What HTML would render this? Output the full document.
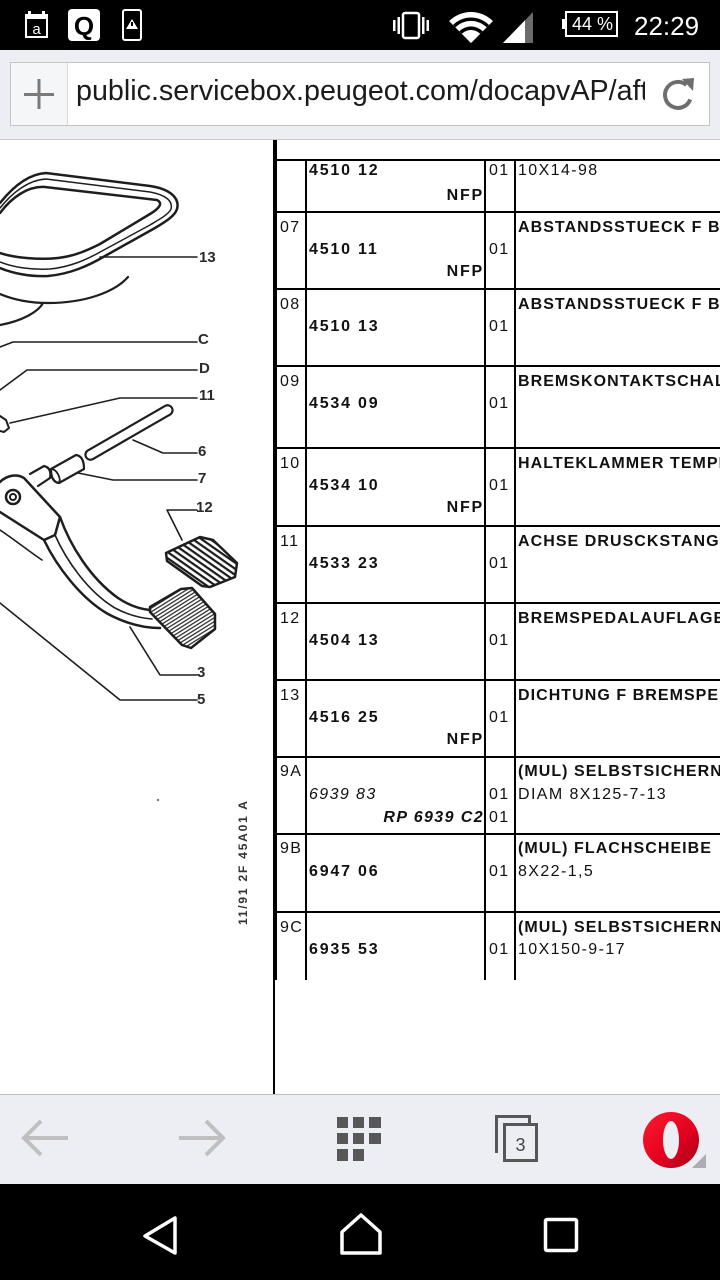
<!DOCTYPE html>
<html><head><meta charset="utf-8">
<style>
*{margin:0;padding:0}
html,body{width:720px;height:1280px;overflow:hidden;background:#fff}
svg{display:block}
.n{font-weight:bold;letter-spacing:1.8px;font-size:16px;fill:#111}
.ni{font-weight:bold;font-style:italic;letter-spacing:1.4px;font-size:16px;fill:#111}
.i{font-style:italic;letter-spacing:1.4px;font-size:16px;fill:#111}
.d{font-weight:bold;letter-spacing:1.05px;font-size:16px;fill:#111}
.r{letter-spacing:1.4px;font-size:16px;fill:#111}
.lb{font-weight:bold;font-size:15px;fill:#2a2a2a}
</style></head><body>
<svg width="720" height="1280" viewBox="0 0 720 1280" font-family="'Liberation Sans', Arial, sans-serif">
<defs>
<clipPath id="urlclip"><rect x="70" y="63" width="575" height="62"/></clipPath>
<pattern id="h3" width="3.2" height="3.2" patternUnits="userSpaceOnUse" patternTransform="rotate(-32)"><rect width="3.2" height="1.3" fill="#333"/></pattern>
<pattern id="h12" width="5" height="5" patternUnits="userSpaceOnUse" patternTransform="rotate(35)"><rect width="5" height="2.2" fill="#1a1a1a"/></pattern>
<linearGradient id="og" x1="0" y1="0" x2="1" y2="1"><stop offset="0" stop-color="#ff1b2d"/><stop offset="0.6" stop-color="#e0001f"/><stop offset="1" stop-color="#a00016"/></linearGradient>
</defs>

<!-- status bar -->
<rect width="720" height="50" fill="#000"/>
<rect x="26" y="15" width="21" height="22" fill="none" stroke="#fff" stroke-width="2"/>
<rect x="26" y="14" width="21" height="5" fill="#fff"/>
<rect x="28" y="11" width="3" height="4" fill="#fff"/><rect x="42" y="11" width="3" height="4" fill="#fff"/>
<text x="36.5" y="34" font-size="15" fill="#fff" text-anchor="middle">a</text>
<rect x="68" y="9" width="32" height="32" rx="4" fill="#fff"/>
<text x="84" y="35" font-size="26" font-weight="bold" text-anchor="middle" fill="#000">Q</text>
<rect x="123" y="10" width="18" height="30" rx="2" fill="none" stroke="#fff" stroke-width="2"/>
<polygon points="132,19 138,29 126,29" fill="#fff"/><rect x="131" y="22" width="2" height="4" fill="#000"/>
<rect x="403" y="13" width="16" height="25" rx="2" fill="none" stroke="#fff" stroke-width="2.5"/>
<rect x="393" y="20" width="2.5" height="11" fill="#fff"/><rect x="397.5" y="17" width="2.5" height="17" fill="#fff"/>
<rect x="422" y="17" width="2.5" height="17" fill="#fff"/><rect x="426.5" y="20" width="2.5" height="11" fill="#fff"/>
<path d="M471,43 L449.1,21.1 A31,31 0 0 1 492.9,21.1 Z" fill="#fff"/>
<path d="M471,43 L453,25 A25.5,25.5 0 0 1 489,25 Z" fill="#000"/>
<path d="M471,43 L455.4,27.4 A22,22 0 0 1 486.6,27.4 Z" fill="#fff"/>
<path d="M471,43 L459.3,31.3 A16.5,16.5 0 0 1 482.7,31.3 Z" fill="#000"/>
<path d="M471,43 L461.8,33.8 A13,13 0 0 1 480.2,33.8 Z" fill="#fff"/>
<polygon points="503,43 533,12 533,43" fill="#6b6b6b"/>
<polygon points="503,43 525,20.3 525,43" fill="#fff"/>
<rect x="566" y="12" width="51" height="24" fill="none" stroke="#fff" stroke-width="2"/>
<rect x="562" y="19" width="4" height="10" fill="#fff"/>
<text x="572" y="30" font-size="18" fill="#fff">44 %</text>
<text x="634" y="35" font-size="26" fill="#fff">22:29</text>

<!-- url bar -->
<rect y="50" width="720" height="90" fill="#edeef3"/>
<rect x="0" y="139" width="720" height="1" fill="#c9cace"/>
<rect x="10.5" y="62.5" width="699" height="63" fill="#fff" stroke="#c3c4c8"/>
<rect x="11" y="63" width="56" height="62" fill="#f5f6f8"/>
<rect x="67" y="63" width="1" height="62" fill="#d9dadd"/>
<rect x="24" y="93" width="30" height="3" fill="#7a7a7a"/><rect x="37.5" y="79" width="3" height="30" fill="#7a7a7a"/>
<text x="76" y="100" font-size="28.7" fill="#1b1b1b" clip-path="url(#urlclip)">public.servicebox.peugeot.com/docapvAP/aft</text>
<path d="M686.4,85 A13,13 0 1 0 690.2,99.4" fill="none" stroke="#6e6e6e" stroke-width="4"/>
<polygon points="682,79 694,78 693,91" fill="#6e6e6e"/>

<!-- drawing -->
<g fill="none" stroke="#1e1e1e" stroke-linejoin="round" stroke-linecap="round">
<path stroke-width="2.5" d="M0,203 C12,188 28,174 46,173 L150,186 C170,189 180,198 177,209 C175,216 165,222 155,228 L105,256 C88,266 70,274 48,276 C30,277 12,273 0,268"/>
<path stroke-width="1.5" d="M0,208 C12,193 28,180 46,179 L150,192 C166,195 173,201 171,209 C169,214 160,219 150,225 L102,251 C86,260 70,267 50,269 C30,270 12,267 0,262"/>
<path stroke-width="2.5" d="M0,253 C15,258 40,260 58,258 C75,256 88,250 100,244 L150,214 C160,208 163,203 157,200 L45,187 C28,186 12,197 0,213"/>
<path stroke-width="2.2" d="M128,277 C115,292 85,303 48,303 C28,303 12,299 0,294"/>
<path stroke-width="2.2" d="M43,303 C38,312 22,321 0,325"/>
<g stroke-width="1.6">
<path d="M100,257 L197,257"/>
<path d="M0,347 L13,342 L197,342"/>
<path d="M0,390 L27,370 L197,370"/>
<path d="M10,423 L120,398 L197,398"/>
<path d="M133,440 L163,453 L197,453"/>
<path d="M78,473 L113,480 L197,480"/>
<path d="M182,540 L167,510 L197,510"/>
<path d="M130,627 L160,675 L197,675"/>
<path d="M0,603 L120,700 L197,700"/>
</g>
<path stroke-width="2" d="M0,416 L6,420 L9,428 L4,432 L0,431"/>
<path stroke-width="2.2" fill="#fff" d="M87.5,450.7 L165.5,405.7 A5,5 0 0,1 170.5,414.3 L92.5,459.3 A5,5 0 0,1 87.5,450.7 Z"/>
<path stroke-width="2.2" fill="#fff" d="M51,469 L76,455 Q84,456 84,469 L59,483 Q51,482 51,469 Z"/>
<ellipse cx="55" cy="476" rx="3.5" ry="7.5" transform="rotate(-29 55 476)" stroke-width="1.8"/>
<path stroke-width="2.2" fill="#fff" d="M30,474 L44,466 Q52,468 50,478 L38,486"/>
<path stroke-width="2.5" fill="#fff" d="M0,482 C6,476 16,473 24,478 L60,517 L55,535 L44,540 L0,512"/>
<circle cx="13" cy="497" r="7" stroke-width="2.5"/>
<circle cx="13" cy="497" r="3" stroke-width="2"/>
<path stroke-width="2.5" d="M60,517 C70,545 90,578 118,598 C130,606 140,609 150,610"/>
<path stroke-width="1.6" d="M55,535 C66,560 88,592 115,608 C128,615 140,618 152,619"/>
<path stroke-width="2.5" d="M44,540 C56,565 80,598 108,614 C125,623 143,628 160,628"/>
<path stroke-width="1.6" d="M0,530 C15,540 30,552 42,560"/>
<polygon stroke-width="2.5" fill="url(#h3)" points="150,607 181,589 192,588 215,614 215,629 191,648 182,645 150,612"/>
<polygon stroke-width="2.5" fill="url(#h12)" points="166,553 200,537 213,540 237,563 235,577 210,587 202,586 167,561"/>
</g>
<text class="lb" x="199" y="262">13</text>
<text class="lb" x="198" y="344">C</text>
<text class="lb" x="199" y="373">D</text>
<text class="lb" x="199" y="400">11</text>
<text class="lb" x="198" y="456">6</text>
<text class="lb" x="198" y="483">7</text>
<text class="lb" x="196" y="512">12</text>
<text class="lb" x="197" y="677">3</text>
<text class="lb" x="197" y="704">5</text>
<text transform="translate(247,925) rotate(-90)" font-size="12" font-weight="bold" letter-spacing="1.8" fill="#333">11/91 2F 45A01 A</text>
<circle cx="158" cy="800" r="1.2" fill="#777"/>

<!-- frame divider & table lines -->
<rect x="273" y="140" width="2" height="954" fill="#000"/>
<rect x="273" y="140" width="4" height="840" fill="#000"/>
<g fill="#000">
<rect x="305" y="159" width="2" height="821"/>
<rect x="484" y="159" width="2" height="821"/>
<rect x="514" y="159" width="2" height="821"/>
<rect x="274" y="159" width="446" height="2"/>
<rect x="274" y="211" width="446" height="2"/>
<rect x="274" y="288" width="446" height="2"/>
<rect x="274" y="365" width="446" height="2"/>
<rect x="274" y="447" width="446" height="2"/>
<rect x="274" y="525" width="446" height="2"/>
<rect x="274" y="602" width="446" height="2"/>
<rect x="274" y="679" width="446" height="2"/>
<rect x="274" y="756" width="446" height="2"/>
<rect x="274" y="833" width="446" height="2"/>
<rect x="274" y="911" width="446" height="2"/>
</g>

<!-- table text -->
<text class="n" x="309" y="175">4510 12</text>
<text class="n" x="484" y="200" text-anchor="end">NFP</text>
<text class="r" x="489" y="175">01</text>
<text class="r" x="518" y="175">10X14-98</text>

<text class="r" x="280" y="232">07</text>
<text class="n" x="309" y="254">4510 11</text>
<text class="n" x="484" y="276" text-anchor="end">NFP</text>
<text class="r" x="489" y="254">01</text>
<text class="d" x="518" y="232">ABSTANDSSTUECK F BREMSPEDAL</text>

<text class="r" x="280" y="309">08</text>
<text class="n" x="309" y="331">4510 13</text>
<text class="r" x="489" y="331">01</text>
<text class="d" x="518" y="309">ABSTANDSSTUECK F BREMSPEDAL</text>

<text class="r" x="280" y="386">09</text>
<text class="n" x="309" y="408">4534 09</text>
<text class="r" x="489" y="408">01</text>
<text class="d" x="518" y="386">BREMSKONTAKTSCHALTER</text>

<text class="r" x="280" y="468">10</text>
<text class="n" x="309" y="490">4534 10</text>
<text class="n" x="484" y="512" text-anchor="end">NFP</text>
<text class="r" x="489" y="490">01</text>
<text class="d" x="518" y="468">HALTEKLAMMER TEMPERATUR</text>

<text class="r" x="280" y="546">11</text>
<text class="n" x="309" y="568">4533 23</text>
<text class="r" x="489" y="568">01</text>
<text class="d" x="518" y="546">ACHSE DRUSCKSTANGE</text>

<text class="r" x="280" y="623">12</text>
<text class="n" x="309" y="645">4504 13</text>
<text class="r" x="489" y="645">01</text>
<text class="d" x="518" y="623">BREMSPEDALAUFLAGE</text>

<text class="r" x="280" y="700">13</text>
<text class="n" x="309" y="722">4516 25</text>
<text class="n" x="484" y="744" text-anchor="end">NFP</text>
<text class="r" x="489" y="722">01</text>
<text class="d" x="518" y="700">DICHTUNG F BREMSPEDAL</text>

<text class="r" x="280" y="776">9A</text>
<text class="i" x="309" y="799">6939 83</text>
<text class="ni" x="484" y="822" text-anchor="end">RP 6939 C2</text>
<text class="r" x="489" y="799">01</text>
<text class="r" x="489" y="822">01</text>
<text class="d" x="518" y="776">(MUL) SELBSTSICHERNDE</text>
<text class="r" x="518" y="799">DIAM 8X125-7-13</text>

<text class="r" x="280" y="853">9B</text>
<text class="n" x="309" y="876">6947 06</text>
<text class="r" x="489" y="876">01</text>
<text class="d" x="518" y="853">(MUL) FLACHSCHEIBE</text>
<text class="r" x="518" y="876">8X22-1,5</text>

<text class="r" x="280" y="932">9C</text>
<text class="n" x="309" y="954">6935 53</text>
<text class="r" x="489" y="954">01</text>
<text class="d" x="518" y="932">(MUL) SELBSTSICHERNDE</text>
<text class="r" x="518" y="954">10X150-9-17</text>

<!-- bottom toolbar -->
<rect y="1094" width="720" height="90" fill="#edeef3"/>
<rect y="1094" width="720" height="1" fill="#bcbdc1"/>
<path d="M68,1138 H25 M41,1121 L24,1138 L41,1155" stroke="#bfbfbf" stroke-width="4" fill="none"/>
<path d="M179,1138 H222 M206,1121 L223,1138 L206,1155" stroke="#bfbfbf" stroke-width="4" fill="none"/>
<g fill="#575757">
<rect x="337" y="1117" width="11" height="11"/><rect x="353" y="1117" width="11" height="11"/><rect x="369" y="1117" width="12" height="11"/>
<rect x="337" y="1133" width="11" height="11"/><rect x="353" y="1133" width="11" height="11"/><rect x="369" y="1133" width="12" height="11"/>
<rect x="337" y="1149" width="11" height="12"/><rect x="353" y="1149" width="11" height="12"/>
</g>
<path d="M496.5,1153 V1116.5 H529.5 V1123" fill="none" stroke="#575757" stroke-width="3"/>
<rect x="504.5" y="1124.5" width="32" height="36" fill="none" stroke="#575757" stroke-width="3"/>
<text x="520.5" y="1151" font-size="18" fill="#444" text-anchor="middle">3</text>
<path fill-rule="evenodd" fill="url(#og)" d="M643,1140 a28,28 0 1,0 56,0 a28,28 0 1,0 -56,0 Z M663,1140 a8,19 0 1,0 16,0 a8,19 0 1,0 -16,0 Z"/>
<polygon points="692,1168 706,1154 706,1168" fill="#adadb1"/>

<!-- nav bar -->
<rect y="1184" width="720" height="96" fill="#000"/>
<g fill="none" stroke="#fff" stroke-width="3.5" stroke-linejoin="round">
<polygon points="145,1236 175,1218 175,1253"/>
<polygon points="342,1253 342,1232 361,1215 380,1232 380,1253"/>
<rect x="545.5" y="1219.5" width="31" height="31" rx="1.5"/>
</g>
</svg>
</body></html>
